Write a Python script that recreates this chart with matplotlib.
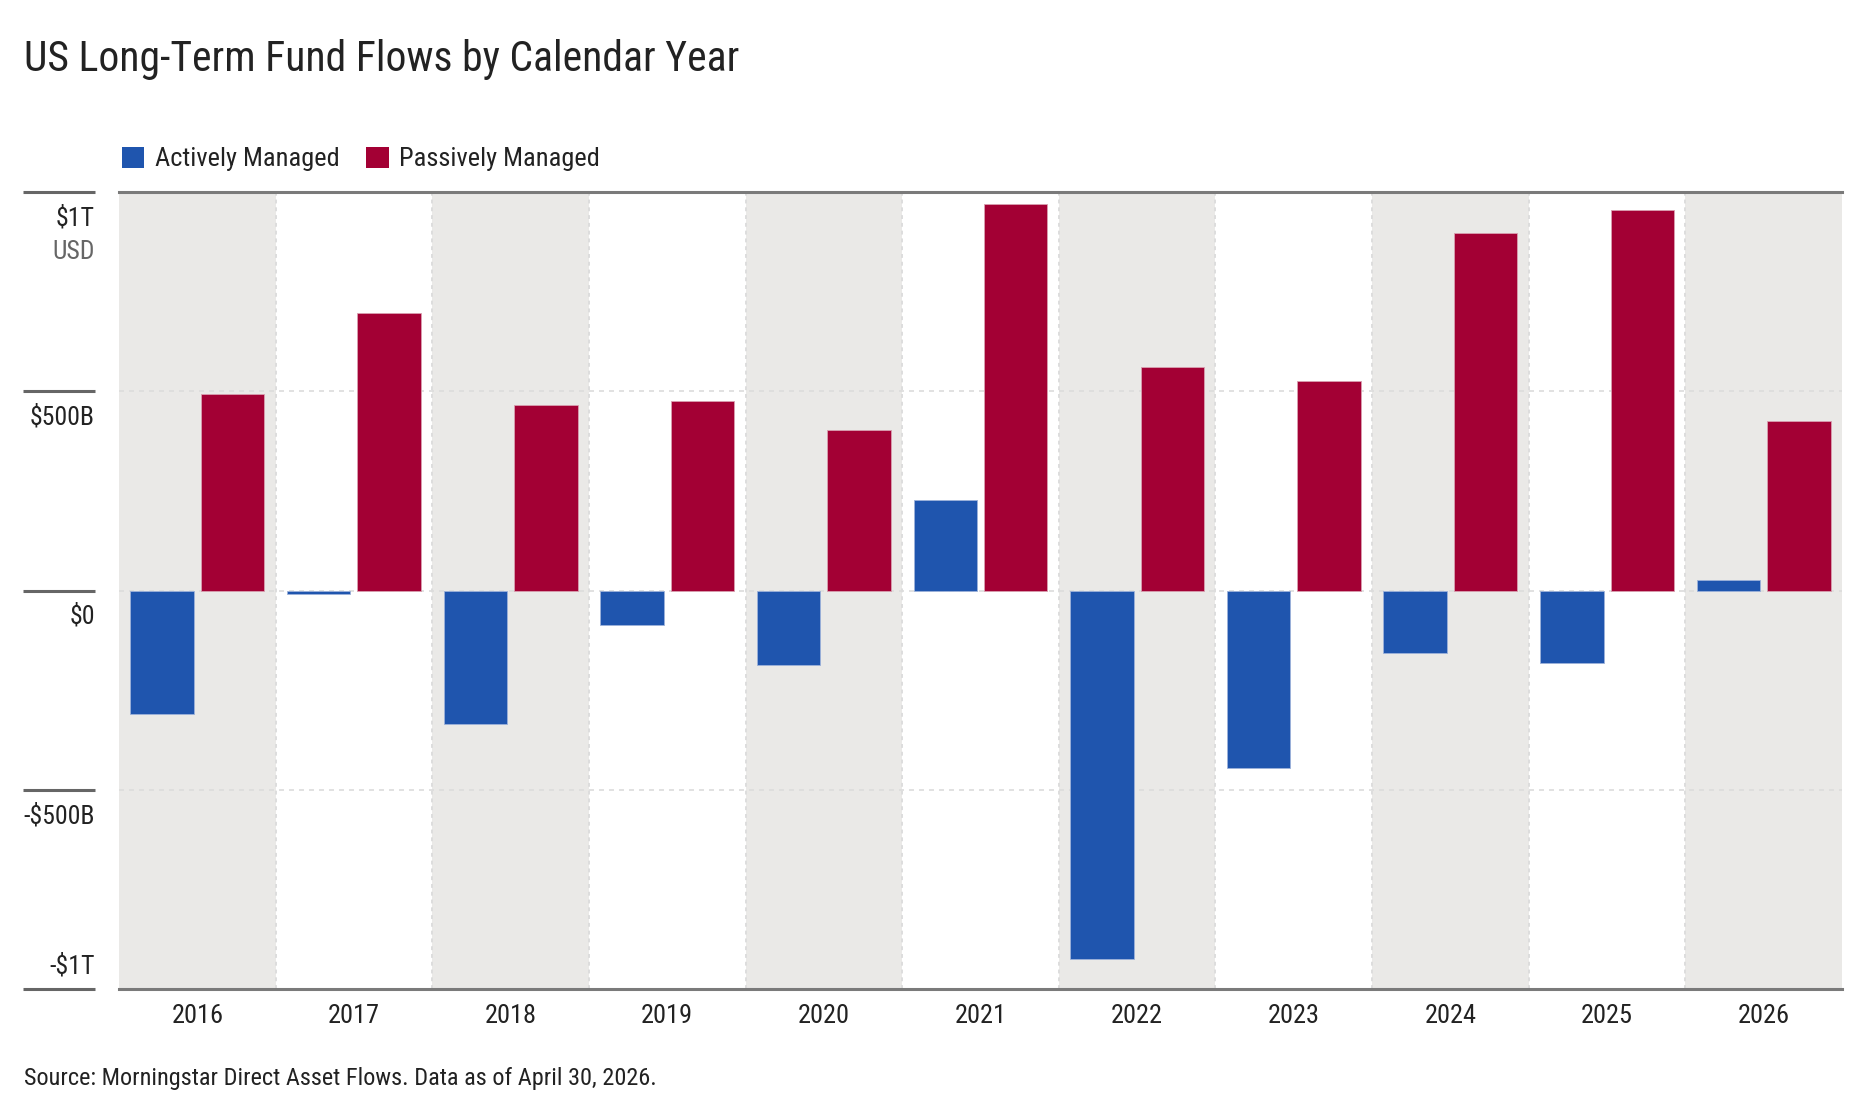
import numpy as np
import matplotlib
matplotlib.use("Agg")
import matplotlib.pyplot as plt
from matplotlib import font_manager
from matplotlib.patches import Patch
from matplotlib.transforms import blended_transform_factory, offset_copy

# ---------------- data ----------------
years = ["2016", "2017", "2018", "2019", "2020", "2021", "2022", "2023", "2024", "2025", "2026"]
active = [-310, -9, -335, -87, -188, 228, -924, -445, -157, -182, 26]      # $B
passive = [492, 696, 465, 475, 404, 971, 562, 526, 896, 954, 425]          # $B
series_names = ["Actively Managed", "Passively Managed"]
ytick_values = [1000, 500, 0, -500, -1000]
ytick_labels = ["$1T", "$500B", "$0", "-$500B", "-$1T"]
title = "US Long-Term Fund Flows by Calendar Year"
source = "Source: Morningstar Direct Asset Flows. Data as of April 30, 2026."

# ---------------- font ----------------
available = {f.name for f in font_manager.fontManager.ttflist}
family = "DejaVu Sans"
for cand in ["Liberation Sans Narrow", "Roboto Condensed", "Open Sans Condensed", "Liberation Sans"]:
    if cand in available:
        family = cand
        break
plt.rcParams["font.family"] = [family, "DejaVu Sans"]

BLUE = "#1F55AE"
RED = "#A30034"
BAND = "#EAE9E7"
TEXT = "#222222"
LINE = "#7A7A7A"

W, H = 1858, 1108
fig = plt.figure(figsize=(W / 100, H / 100), dpi=100)
left, right, top, bottom = 119, 1842, 192, 989
ax = fig.add_axes([left / W, 1 - bottom / H, (right - left) / W, (bottom - top) / H])

n = len(years)
x = np.arange(n)
ax.set_xlim(-0.5, n - 0.5)
ax.set_ylim(-1000, 1000)

# alternating bands
for i in range(n):
    if i % 2 == 0:
        ax.axvspan(i - 0.5, i + 0.5, color=BAND, lw=0, zorder=0)
for i in range(1, n):
    ax.axvline(i - 0.5, color="#DDDDDD", lw=1.4, ls=(0, (2, 2)), zorder=1)

# gridlines
for v in [-500, 0, 500]:
    ax.axhline(v, color="#DCDCDC", lw=1.2, ls=(0, (3, 3)), zorder=1)

bw = 0.405
off = 0.225
ax.bar(x - off, active, width=bw, color=BLUE, zorder=3, edgecolor="#9DB2DA", linewidth=0.6)
ax.bar(x + off, passive, width=bw, color=RED, zorder=3, edgecolor="#D9A0B0", linewidth=0.6)

for s in ["left", "right"]:
    ax.spines[s].set_visible(False)
for s in ["top", "bottom"]:
    ax.spines[s].set_color(LINE)
    ax.spines[s].set_linewidth(2.2)
ax.set_yticks([])
ax.set_xticks(x)
ax.set_xticklabels(years, fontsize=19, color=TEXT)
ax.tick_params(axis="x", length=0, pad=11)

# y-axis labels and short lines on the left
tr = blended_transform_factory(fig.transFigure, ax.transData)
for v, lab in zip(ytick_values, ytick_labels):
    ax.plot([23 / W, 95 / W], [v, v], transform=tr, color="#666666", lw=2.2,
            clip_on=False, solid_capstyle="butt")
    dy = 23 if v == ytick_values[-1] else -26
    t = offset_copy(tr, fig=fig, x=0, y=dy, units="dots")
    ax.text(95 / W, v, lab, transform=t, ha="right", va="center", fontsize=18.5, color=TEXT)
t_usd = offset_copy(tr, fig=fig, x=0, y=-60, units="dots")
ax.text(95 / W, ytick_values[0], "USD", transform=t_usd, ha="right", va="center",
        fontsize=18.5, color="#666666")

# title
fig.text(24 / W, 1 - 71 / H, title, fontsize=30, color=TEXT, va="baseline", ha="left")

# legend
handles = [Patch(facecolor=BLUE, edgecolor="none"), Patch(facecolor=RED, edgecolor="none")]
fig.legend(handles, series_names, loc="center left", bbox_to_anchor=(122 / W, 1 - 159 / H),
           ncol=2, frameon=False, fontsize=19, handlelength=0.85, handleheight=0.88,
           handletextpad=0.4, columnspacing=1.0, borderpad=0, borderaxespad=0,
           labelcolor=TEXT)

# source
fig.text(24 / W, 1 - 1078 / H, source, fontsize=17.5, color=TEXT, va="center", ha="left")

fig.savefig("out.png", dpi=100)
